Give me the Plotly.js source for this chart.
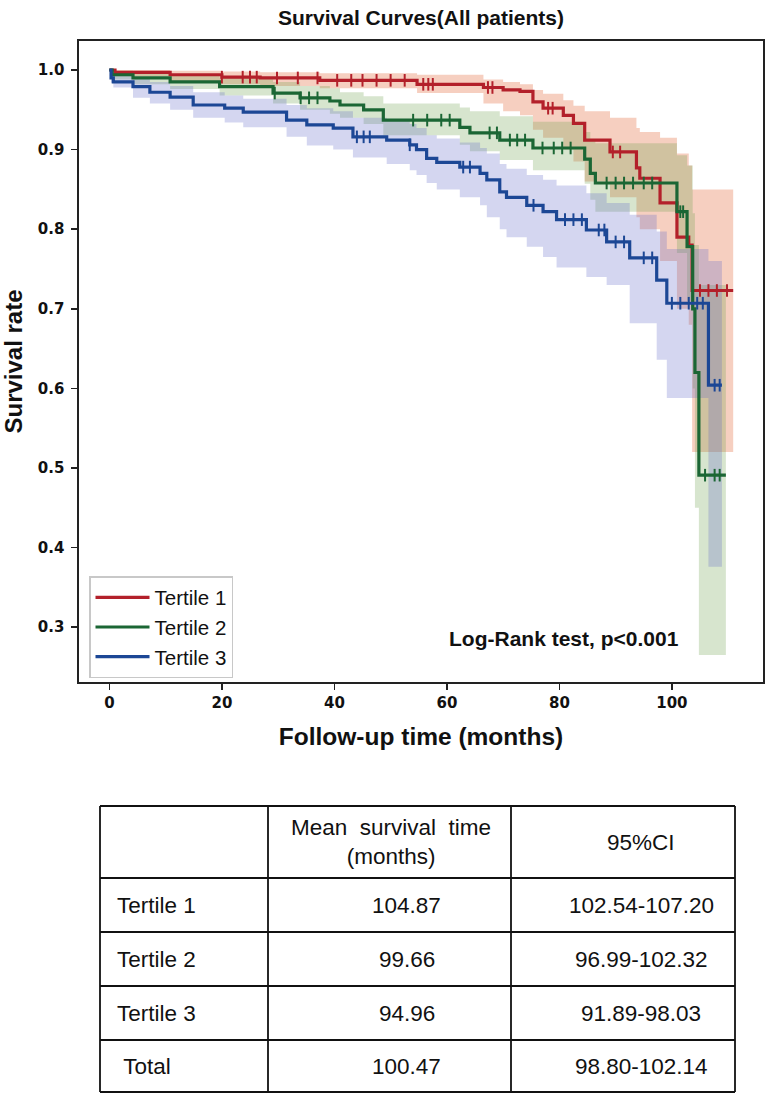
<!DOCTYPE html>
<html>
<head>
<meta charset="utf-8">
<script src="https://cdn.plot.ly/plotly-3.0.1.min.js"></script>
<style>
  html, body { margin: 0; padding: 0; background: #fff; }
  #chart { width: 779px; height: 1102px; }
</style>
</head>
<body>
<div id="chart"></div>
<script>
// Kaplan-Meier step curves (follow-up in months) with 95% confidence bands
const groupNames = ['Tertile 1', 'Tertile 2', 'Tertile 3'];

const t1Time  = [0, 1, 10.8, 20, 26.8, 37.4, 54.7, 66.5, 70.0, 73.0, 75.3, 77.1, 80.7, 82.5, 84.5, 89.0, 93.7, 94.3, 97.9, 100.9, 103.0, 103.6, 110.9];
const t1Surv  = [1.0, 0.997, 0.994, 0.991, 0.99, 0.987, 0.982, 0.978, 0.975, 0.973, 0.96, 0.952, 0.943, 0.933, 0.912, 0.897, 0.877, 0.864, 0.833, 0.79, 0.78, 0.723, 0.723];
const t1Lower = [1.0, 0.992, 0.986, 0.982, 0.98, 0.977, 0.971, 0.958, 0.948, 0.943, 0.925, 0.915, 0.9, 0.885, 0.86, 0.84, 0.815, 0.8, 0.76, 0.7, 0.68, 0.52, 0.52];
const t1Upper = [1.0, 1.0, 0.999, 0.998, 0.997, 0.996, 0.994, 0.988, 0.985, 0.982, 0.975, 0.97, 0.962, 0.955, 0.948, 0.94, 0.927, 0.922, 0.915, 0.895, 0.88, 0.85, 0.85];
const t1Censor = [20, 23.7, 25, 26.2, 29.8, 33.5, 37, 40.5, 43, 45, 47.5, 50, 52.5, 55.8, 56.7, 57.5, 67.3, 68.1, 78, 78.8, 89.5, 90.8, 105, 106.5, 108, 109.8];

const t2Time  = [0, 0.5, 4.2, 10.8, 19.6, 29.1, 33.9, 39.2, 41, 45.2, 48.7, 62.3, 64.1, 69.4, 75.3, 84.5, 85.5, 86.4, 100.9, 102.7, 103.7, 104.1, 104.8, 109.6];
const t2Surv  = [1.0, 0.994, 0.99, 0.985, 0.979, 0.971, 0.965, 0.961, 0.956, 0.95, 0.937, 0.928, 0.921, 0.912, 0.902, 0.888, 0.87, 0.858, 0.822, 0.778, 0.70, 0.62, 0.491, 0.491];
const t2Lower = [1.0, 0.988, 0.982, 0.976, 0.968, 0.958, 0.95, 0.945, 0.94, 0.932, 0.918, 0.906, 0.898, 0.887, 0.874, 0.857, 0.837, 0.822, 0.77, 0.71, 0.6, 0.45, 0.265, 0.265];
const t2Upper = [1.0, 0.999, 0.996, 0.993, 0.99, 0.985, 0.98, 0.977, 0.972, 0.967, 0.958, 0.953, 0.948, 0.942, 0.935, 0.922, 0.912, 0.908, 0.893, 0.88, 0.82, 0.78, 0.73, 0.73];
const t2Censor = [29.4, 34, 35.5, 37, 54, 56.5, 59, 60.5, 67.6, 68.9, 71.2, 72.5, 73.9, 77, 79, 80.5, 82, 88.4, 90, 91.5, 93.1, 95, 96.5, 101.5, 102, 105.9, 107.6, 108.5];

const t3Time  = [0, 0.3, 0.7, 4.2, 7.2, 10.8, 14.9, 20.5, 23.8, 31.5, 35.1, 39.8, 43.3, 49.3, 53.4, 54.6, 56.4, 58.2, 62.3, 65.9, 67.1, 69.4, 70.6, 74.2, 77.1, 79.5, 84.8, 88.4, 92.5, 97.3, 99.1, 106.5, 108.9];
const t3Surv  = [1.0, 0.99, 0.985, 0.979, 0.972, 0.966, 0.956, 0.952, 0.947, 0.937, 0.931, 0.927, 0.916, 0.912, 0.906, 0.9, 0.889, 0.884, 0.878, 0.87, 0.862, 0.847, 0.84, 0.83, 0.822, 0.812, 0.799, 0.784, 0.764, 0.736, 0.707, 0.604, 0.604];
const t3Lower = [1.0, 0.984, 0.978, 0.965, 0.958, 0.95, 0.94, 0.934, 0.928, 0.916, 0.905, 0.9, 0.89, 0.882, 0.874, 0.868, 0.858, 0.85, 0.84, 0.83, 0.815, 0.8, 0.79, 0.778, 0.765, 0.752, 0.74, 0.73, 0.682, 0.636, 0.588, 0.376, 0.376];
const t3Upper = [1.0, 0.997, 0.993, 0.99, 0.985, 0.98, 0.972, 0.968, 0.964, 0.956, 0.952, 0.948, 0.94, 0.936, 0.932, 0.927, 0.918, 0.914, 0.909, 0.902, 0.895, 0.882, 0.876, 0.868, 0.862, 0.855, 0.845, 0.833, 0.818, 0.797, 0.775, 0.76, 0.76];
const t3Censor = [44, 45.2, 46.3, 53.4, 62.9, 64.1, 75.4, 81, 82.5, 84, 87, 88, 90, 91.5, 95, 96.5, 100, 101.5, 103, 104.5, 105.5, 107.6, 108.5];

const xTicks = [0, 20, 40, 60, 80, 100];
const yTicks = [0.3, 0.4, 0.5, 0.6, 0.7, 0.8, 0.9, 1.0];

// Summary table contents
const tableHeader = ['', 'Mean\u00a0\u00a0survival\u00a0\u00a0time<br>(months)', '95%CI'];
const rowLabels = ['Tertile 1', 'Tertile 2', 'Tertile 3', '\u00a0Total'];
const meanTime = ['104.87', '99.66', '94.96', '100.47'];
const ci95 = ['102.54-107.20', '96.99-102.32', '91.89-98.03', '98.80-102.14'];

const lineColors = ['#b3202a', '#1b6634', '#1c4795'];
const bandColors = ['rgba(232,130,90,0.38)', 'rgba(110,160,80,0.28)', 'rgba(95,105,200,0.27)'];

const groups = [
  {time: t1Time, surv: t1Surv, lo: t1Lower, hi: t1Upper, cens: t1Censor},
  {time: t2Time, surv: t2Surv, lo: t2Lower, hi: t2Upper, cens: t2Censor},
  {time: t3Time, surv: t3Surv, lo: t3Lower, hi: t3Upper, cens: t3Censor}
];

function stepAt(times, vals, t) {
  let v = vals[0];
  for (let i = 0; i < times.length; i++) {
    if (times[i] <= t) v = vals[i]; else break;
  }
  return v;
}

const W = 779, H = 1102;
const px = v => v / W;          // horizontal pixel -> paper fraction
const py = v => 1 - v / H;      // vertical pixel -> paper fraction
const FONT = 'Liberation Sans, Arial, sans-serif';

const traces = [];

// confidence bands
groups.forEach((g, i) => {
  traces.push({x: g.time, y: g.lo, type: 'scatter', mode: 'lines', line: {shape: 'hv', width: 0},
               showlegend: false, hoverinfo: 'skip'});
  traces.push({x: g.time, y: g.hi, type: 'scatter', mode: 'lines', line: {shape: 'hv', width: 0},
               fill: 'tonexty', fillcolor: bandColors[i], showlegend: false, hoverinfo: 'skip'});
});

// survival curves
groups.forEach((g, i) => {
  traces.push({x: g.time, y: g.surv, type: 'scatter', mode: 'lines', name: groupNames[i],
               line: {shape: 'hv', width: 3.2, color: lineColors[i]}});
});

// censoring ticks
groups.forEach((g, i) => {
  traces.push({x: g.cens, y: g.cens.map(t => stepAt(g.time, g.surv, t)), type: 'scatter', mode: 'markers',
               marker: {symbol: 'line-ns', size: 9, line: {width: 2, color: lineColors[i]}},
               showlegend: false, hoverinfo: 'skip'});
});

// table grid and cell texts
const colEdges = [100, 268, 511, 735];
const rowEdges = [806, 878, 932, 986, 1040, 1092];
const shapes = [];
colEdges.forEach(x => shapes.push({type: 'line', xref: 'paper', yref: 'paper',
  x0: px(x), x1: px(x), y0: py(rowEdges[0]), y1: py(rowEdges[rowEdges.length - 1]),
  line: {color: '#111', width: 1.8}}));
rowEdges.forEach(y => shapes.push({type: 'line', xref: 'paper', yref: 'paper',
  x0: px(colEdges[0]), x1: px(colEdges[colEdges.length - 1]), y0: py(y), y1: py(y),
  line: {color: '#111', width: 1.8}}));

const annotations = [];
const cellText = (text, x, y, anchor) => annotations.push({
  text: text, xref: 'paper', yref: 'paper', x: px(x), y: py(y), xanchor: anchor, yanchor: 'middle',
  showarrow: false, align: 'center', font: {family: FONT, size: 22.5, color: '#111'}});

cellText(tableHeader[1], 391, 842, 'center');
cellText(tableHeader[2], 641, 842, 'center');
const colCentres = [null, 407, 641];
[rowLabels, meanTime, ci95].forEach((col, c) => {
  col.forEach((v, r) => {
    const yc = (rowEdges[r + 1] + rowEdges[r + 2]) / 2;
    if (c === 0) cellText(v, 115, yc, 'left');
    else cellText(v, colCentres[c], yc, 'center');
  });
});

annotations.push({
  text: '<b>Log-Rank test, p&lt;0.001</b>', xref: 'paper', yref: 'paper',
  x: px(564), y: py(638), xanchor: 'center', yanchor: 'middle', showarrow: false,
  font: {family: FONT, size: 21, color: '#111'}
});

const axisCommon = {
  showline: true, mirror: true, linecolor: '#222', linewidth: 1.6,
  ticks: 'outside', ticklen: 6, tickwidth: 1.5, tickcolor: '#222',
  showgrid: false, zeroline: false,
  tickfont: {family: 'DejaVu Sans, sans-serif', size: 15, color: '#111', weight: 'bold'}
};

const layout = {
  width: W, height: H,
  margin: {l: 0, r: 0, t: 0, b: 0},
  paper_bgcolor: '#fff', plot_bgcolor: '#fff',
  title: {text: '<b>Survival Curves(All patients)</b>', x: px(421), xref: 'paper', xanchor: 'center',
          y: py(18), yref: 'container', yanchor: 'middle',
          font: {family: FONT, size: 21, color: '#111'}},
  xaxis: Object.assign({}, axisCommon, {
    domain: [px(79), px(763)], range: [-5.4, 116.2], tickvals: xTicks,
    title: {text: '<b>Follow-up time (months)</b>', standoff: 17,
            font: {family: FONT, size: 24.5, color: '#111'}}
  }),
  yaxis: Object.assign({}, axisCommon, {
    domain: [py(682), py(41)], range: [0.2312, 1.0364], tickvals: yTicks, tickformat: '.1f',
    ticklabelstandoff: 4,
    title: {text: '<b>Survival rate</b>', standoff: 10,
            font: {family: FONT, size: 24, color: '#111'}}
  }),
  legend: {x: px(89), y: py(576), xanchor: 'left', yanchor: 'top', traceorder: 'normal',
           bordercolor: '#c8c8c8', borderwidth: 1.5, bgcolor: 'rgba(255,255,255,0.92)',
           font: {family: FONT, size: 20.5, color: '#111'},
           tracegroupgap: 0, itemwidth: 54},
  shapes: shapes,
  annotations: annotations
};

Plotly.newPlot('chart', traces, layout, {displayModeBar: false, staticPlot: true});
</script>
</body>
</html>
